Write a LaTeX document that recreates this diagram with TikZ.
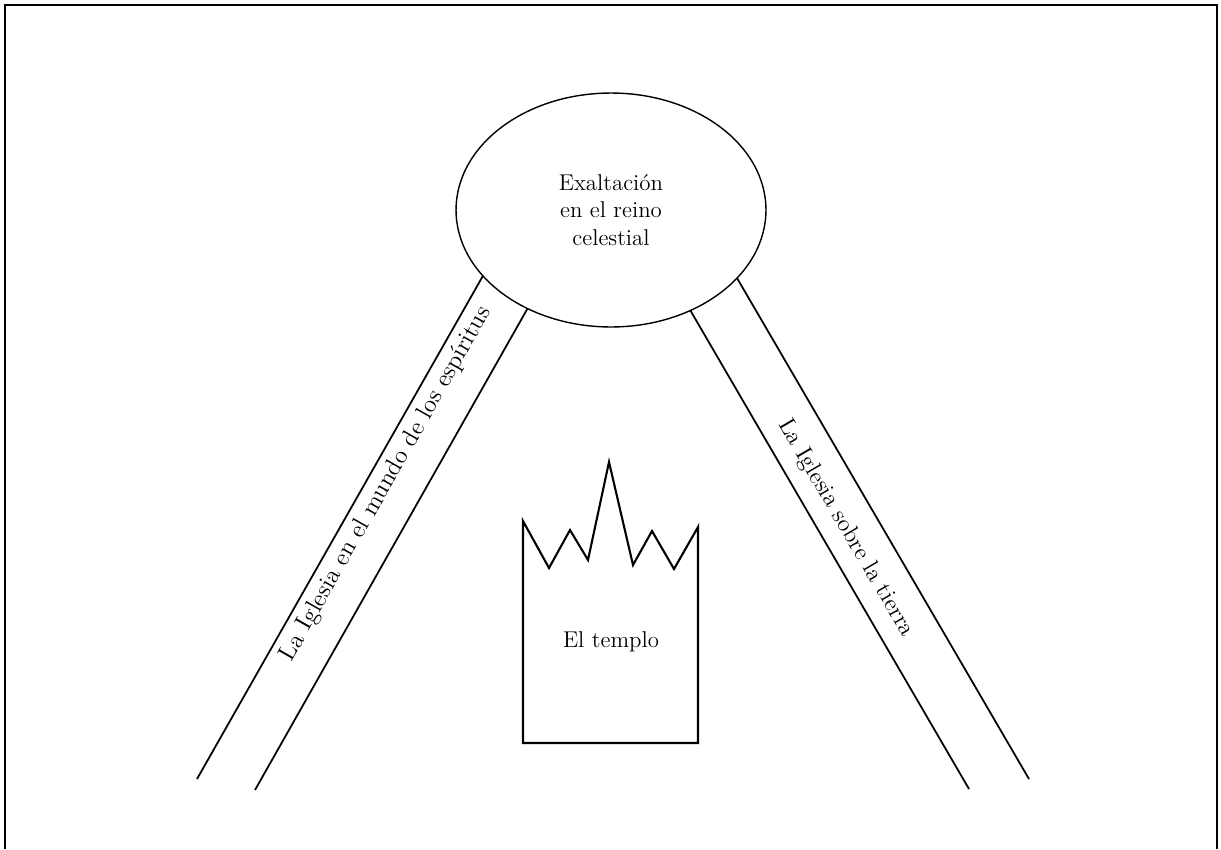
\documentclass[tikz,border=0pt]{standalone}
\usepackage{tikz}
\usetikzlibrary{shapes.geometric}

\tikzset{
	band/.style={line width=1pt},
	txt/.style={font=\fontsize{13}{15.5}\selectfont, align=center},
	bandtxt/.style={font=\fontsize{14}{16}\selectfont},
}

\begin{document}
\begin{tikzpicture}[x=0.02cm, y=-0.02cm]
	\useasboundingbox (0,0) rectangle (1221,849);
	
	% frame, open at the bottom
	\draw[line width=1.2pt] (5,849) -- (5,5) -- (1217,5) -- (1217,849);
	
	% feet of the two bands
	\coordinate (lo) at (197,779);
	\coordinate (li) at (255,790);
	\coordinate (ri) at (969,789);
	\coordinate (ro) at (1029,779);
	
	% bands run under the ellipse, which covers their tops
	\draw[band] (lo) -- (509,230);
	\draw[band] (li) -- (555,260);
	\draw[band] (ri) -- (661,260);
	\draw[band] (ro) -- (709,230);
	
	\node[ellipse, draw, fill=white, line width=0.8pt, minimum width=6.2cm, minimum height=4.68cm, txt] (reino) at (611,210) {Exaltación\\en el reino\\celestial};
	
	\node[bandtxt, rotate=60.4] (espiritus) at (386,484) {La Iglesia en el mundo de los espíritus};
	\node[bandtxt, font=\fontsize{13.5}{16}\selectfont, rotate=-59.7] (tierra) at (846,528) {La Iglesia sobre la tierra};
	
	% the temple
	\draw[line width=1.2pt, line join=miter] (698,743) -- (523,743) -- (523,521) -- (549,568) -- (570,530) -- (588,560) -- (609,462) -- (633,565) -- (652,531) -- (674,569) -- (698,527) -- cycle;
	\node[txt] (templo) at (611,642) {El templo};
\end{tikzpicture}
\end{document}
